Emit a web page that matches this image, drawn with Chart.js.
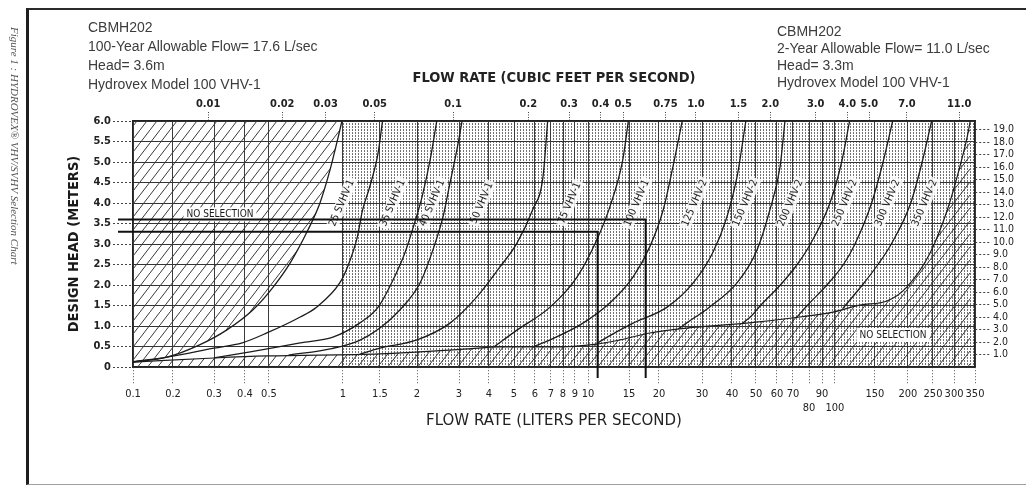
<!DOCTYPE html>
<html>
<head>
<meta charset="utf-8">
<title>Hydrovex VHV/SVHV Selection Chart</title>
<script src="https://cdn.jsdelivr.net/npm/chart.js@4.4.1/dist/chart.umd.min.js"></script>
<style>
  html, body { margin: 0; padding: 0; background: #fff; }
  #page { position: relative; width: 1026px; height: 487px; overflow: hidden; font-family: "Liberation Sans", Arial, sans-serif; }
  #frame { position: absolute; left: 26px; top: 8px; width: 1010px; height: 474px; border-left: 3px solid #1e1e1e; border-top: 2px solid #2a2a2a; border-bottom: 1px solid #a0a0a0; }
  #chart { position: absolute; left: 0; top: 0; }
  .note { position: absolute; color: #3c3c3c; font-size: 14px; white-space: nowrap; }
  #caption { position: absolute; left: 21px; top: 27px; transform-origin: 0 0; transform: rotate(90deg); font: italic 11px "Liberation Serif", serif; color: #555; white-space: nowrap; }
</style>
</head>
<body>
<div id="page">
  <div id="frame"></div>
  <canvas id="chart" width="1026" height="487"></canvas>
  <div id="caption">Figure 1 : HYDROVEX® VHV/SVHV Selection Chart</div>
  <div class="note" style="left:88px; top:18px; line-height:19px;">CBMH202<br>100-Year Allowable Flow= 17.6 L/sec<br>Head= 3.6m<br>Hydrovex Model 100 VHV-1</div>
  <div class="note" style="left:777px; top:23px; line-height:17px;">CBMH202<br>2-Year Allowable Flow= 11.0 L/sec<br>Head= 3.3m<br>Hydrovex Model 100 VHV-1</div>
</div>
<script>
// Axes
const lpsTicks = [0.1, 0.2, 0.3, 0.4, 0.5, 1, 1.5, 2, 3, 4, 5, 6, 7, 8, 9, 10, 15, 20, 30, 40, 50, 60, 70, 80, 90, 100, 150, 200, 250, 300, 350];
const cfsTicks = [0.01, 0.02, 0.03, 0.05, 0.1, 0.2, 0.3, 0.4, 0.5, 0.75, 1.0, 1.5, 2.0, 3.0, 4.0, 5.0, 7.0, 11.0];
const headTicks = [0, 0.5, 1.0, 1.5, 2.0, 2.5, 3.0, 3.5, 4.0, 4.5, 5.0, 5.5, 6.0];
const feetTicks = [1, 2, 3, 4, 5, 6, 7, 8, 9, 10, 11, 12, 13, 14, 15, 16, 17, 18, 19];

// Valve curves, [flow L/s, head m]
const curveNames = ['25 SVHV-1', '35 SVHV-1', '40 SVHV-1', '50 VHV-1', '75 VHV-1', '100 VHV-1',
  '125 VHV-2', '150 VHV-2', '200 VHV-2', '250 VHV-2', '300 VHV-2', '350 VHV-2'];
const c25 = [[0.1, 0.12], [0.18, 0.24], [0.26, 0.54], [0.337, 0.9], [0.43, 1.39], [0.52, 1.95], [0.61, 2.54], [0.72, 3.34], [0.806, 4.0], [0.885, 4.8], [0.957, 5.62], [0.99, 6.0]];
const c35 = [[0.1, 0.13], [0.18, 0.24], [0.3, 0.46], [0.39, 0.59], [0.49, 0.83], [0.67, 1.22], [0.78, 1.46], [0.97, 2.05], [1.06, 2.49], [1.17, 3.17], [1.24, 3.83], [1.34, 4.39], [1.47, 5.22], [1.53, 6.0]];
const c40 = [[0.3, 0.22], [0.42, 0.37], [0.67, 0.59], [0.91, 0.73], [1.2, 1.07], [1.47, 1.46], [1.66, 2.12], [1.82, 2.78], [1.96, 3.5], [2.1, 4.15], [2.27, 5.05], [2.42, 6.0]];
const c50 = [[0.6, 0.29], [0.9, 0.45], [1.2, 0.65], [1.5, 0.95], [1.75, 1.39], [2.06, 2.05], [2.33, 2.85], [2.57, 3.66], [2.75, 4.49], [2.94, 5.3], [3.09, 6.0]];
const c75 = [[1.2, 0.31], [1.5, 0.46], [2.0, 0.66], [2.75, 1.07], [3.56, 1.71], [4.41, 2.44], [5.13, 3.02], [5.89, 3.85], [6.48, 4.63], [6.78, 6.0]];
const c100 = [[4.2, 0.5], [5.13, 0.9], [6.94, 1.46], [9.16, 2.2], [10.9, 3.1], [12.4, 3.9], [14.1, 5.05], [14.9, 6.0]];
const c125 = [[5.9, 0.49], [6.94, 0.66], [9.6, 1.07], [12.4, 1.56], [15.6, 2.2], [18.3, 2.93], [20.8, 3.83], [22.8, 4.88], [24.9, 6.0]];
const c150 = [[10.9, 0.57], [12.1, 0.73], [15.6, 1.07], [21.6, 1.46], [27.6, 2.05], [33.2, 2.78], [38.1, 3.66], [41.9, 4.63], [45.5, 6.0]];
const c200 = [[24, 0.93], [25.9, 1.07], [32.2, 1.46], [41.9, 2.05], [50.4, 2.85], [56.4, 3.83], [61.8, 4.88], [64.8, 6.0]];
const c250 = [[44, 1.06], [48, 1.25], [52, 1.5], [62, 2.0], [72.5, 2.5], [81, 3.0], [96, 4.0], [107, 5.0], [116, 6.0]];
const c300 = [[72, 1.2], [78.8, 1.5], [93.6, 2.0], [109, 2.5], [122.5, 3.0], [145, 4.0], [161, 5.0], [175, 6.0]];
const c350 = [[108, 1.42], [111, 1.5], [132, 2.0], [154, 2.5], [173, 3.0], [205, 4.0], [227, 5.0], [247, 6.0]];

// Lower / right limit of the selection area
const noSelectionEdge = [[0.1, 0.12], [0.3, 0.22], [0.49, 0.27], [1.5, 0.32], [2.05, 0.37], [3.24, 0.44], [4.4, 0.49], [7, 0.49], [10.9, 0.56], [13.7, 0.66], [18.3, 0.83], [25.9, 0.95], [45.8, 1.07], [74.2, 1.22], [98.4, 1.34], [128.8, 1.51], [166.5, 1.61], [198, 1.95], [243.6, 2.78], [283, 3.83], [306.7, 4.63], [330.5, 5.61], [338, 6.0]];

// Design points [flow L/s, head m]
const design100Year = [17.6, 3.6];
const design2Year = [11.0, 3.3];

const LPS_PER_CFS = 28.3168;
const M_PER_FT = 0.3048;

// Scale that follows the chart's printed (non uniform) flow spacing
class WarpScale extends Chart.LinearScale {
  static id = 'warp';
  static defaults = {};
  toFraction(v) {
    const { anchors, spots } = this.options;
    const q = v * (this.options.factor || 1);
    const n = anchors.length;
    let i = 0;
    if (q >= anchors[n - 1]) i = n - 2;
    else while (i < n - 2 && q > anchors[i + 1]) i++;
    const t = Math.log(q / anchors[i]) / Math.log(anchors[i + 1] / anchors[i]);
    return spots[i] + t * (spots[i + 1] - spots[i]);
  }
  fromFraction(f) {
    const { anchors, spots } = this.options;
    const n = anchors.length;
    let i = 0;
    if (f >= spots[n - 1]) i = n - 2;
    else while (i < n - 2 && f > spots[i + 1]) i++;
    const t = (f - spots[i]) / (spots[i + 1] - spots[i]);
    return anchors[i] * Math.pow(anchors[i + 1] / anchors[i], t) / (this.options.factor || 1);
  }
  getPixelForValue(v) {
    if (v === null || v === undefined || isNaN(v)) return NaN;
    return this.getPixelForDecimal(this.toFraction(v));
  }
  getValueForPixel(px) {
    return this.fromFraction(this.getDecimalForPixel(px));
  }
  buildTicks() {
    return (this.options.tickValues || []).map(value => ({ value }));
  }
}
Chart.register(WarpScale);

const warpSpots = [0, 0.0475, 0.0962, 0.1330, 0.1615, 0.2494, 0.2933, 0.3373, 0.3872, 0.4228, 0.4525,
  0.4774, 0.4964, 0.5107, 0.5249, 0.5404, 0.5891, 0.6247, 0.6758, 0.7114, 0.7399, 0.7648, 0.7838,
  0.8029, 0.8183, 0.8337, 0.8812, 0.9204, 0.9501, 0.9751, 1];

// label offset (px) to the right of each curve at 4.0 m
const labelShift = [22, 28, 12, 36, 35, 26, 30, 15, 19, 15, 16, 14];

function makeHatch() {
  const c = document.createElement('canvas');
  c.width = 10; c.height = 13;
  const g = c.getContext('2d');
  g.strokeStyle = '#3a3a3a';
  g.lineWidth = 1;
  g.beginPath();
  g.moveTo(-2.5, 16.25);
  g.lineTo(12.5, -3.25);
  g.stroke();
  return g.createPattern(c, 'repeat');
}

function makeStipple() {
  const c = document.createElement('canvas');
  c.width = 3; c.height = 3;
  const g = c.getContext('2d');
  g.fillStyle = '#727272';
  g.fillRect(1, 0, 1, 2);
  return g.createPattern(c, 'repeat');
}

const hatch = makeHatch();
const stipple = makeStipple();
const tickFont = { family: "'DejaVu Sans Condensed', 'DejaVu Sans', sans-serif", size: 11 };
const titleFont = { family: "'DejaVu Sans Condensed', 'DejaVu Sans', sans-serif", size: 14.5, weight: 'bold' };

const curves = [c25, c35, c40, c50, c75, c100, c125, c150, c200, c250, c300, c350];
const toXY = pts => pts.map(([x, y]) => ({ x, y }));

const datasets = curves.map((pts, i) => ({
  label: curveNames[i],
  data: toXY(pts),
  borderColor: '#1c1c1c',
  borderWidth: 1.3,
  pointRadius: 0,
  cubicInterpolationMode: 'monotone',
  fill: i === 0 ? 'end' : false,
  backgroundColor: i === 0 ? hatch : 'transparent'
}));
datasets.push({
  label: 'NO SELECTION',
  data: toXY(noSelectionEdge),
  borderColor: '#1c1c1c',
  borderWidth: 1.2,
  pointRadius: 0,
  cubicInterpolationMode: 'monotone',
  fill: 'start',
  backgroundColor: hatch
});

const decor = {
  id: 'decor',
  beforeDraw(chart) {
    const { ctx, chartArea: a, scales: { x } } = chart;
    const x1 = x.getPixelForValue(1);
    ctx.save();
    ctx.fillStyle = stipple;
    ctx.fillRect(x1, a.top, a.right - x1, a.bottom - a.top);
    ctx.restore();
  },
  afterDatasetsDraw(chart) {
    const { ctx, chartArea: a, scales: { x, y } } = chart;
    ctx.save();

    // curve labels, set beside each curve at 4.0 m
    const yT = y.getPixelForValue(4.0);
    ctx.font = "10.5px 'DejaVu Sans Condensed', 'DejaVu Sans', sans-serif";
    ctx.textAlign = 'center';
    ctx.textBaseline = 'middle';
    curveNames.forEach((name, i) => {
      const pts = chart.getDatasetMeta(i).data;
      let xT = null;
      for (let k = 0; k < pts.length - 1; k++) {
        const p = pts[k], q = pts[k + 1];
        if ((p.y - yT) * (q.y - yT) <= 0) {
          xT = p.x + (q.x - p.x) * (yT - p.y) / (q.y - p.y);
          break;
        }
      }
      if (xT === null) return;
      const w = ctx.measureText(name).width;
      ctx.save();
      ctx.translate(xT + labelShift[i], yT);
      ctx.rotate(-67 * Math.PI / 180);
      ctx.fillStyle = 'rgba(255,255,255,0.85)';
      ctx.fillRect(-w / 2 - 2, -6, w + 4, 12);
      ctx.fillStyle = '#1a1a1a';
      ctx.fillText(name, 0, 0);
      ctx.restore();
    });

    // NO SELECTION notes
    ctx.font = "10px 'DejaVu Sans Condensed', 'DejaVu Sans', sans-serif";
    const note = (cx, cy) => {
      const w = ctx.measureText('NO SELECTION').width;
      ctx.fillStyle = '#fff';
      ctx.fillRect(cx - w / 2 - 3, cy - 7, w + 6, 14);
      ctx.fillStyle = '#1a1a1a';
      ctx.fillText('NO SELECTION', cx, cy);
    };
    note(a.left + 87, y.getPixelForValue(3.6) - 5);
    note(a.right - 82, y.getPixelForValue(0.78));

    // allowable flow / head lines
    ctx.strokeStyle = '#111';
    ctx.lineWidth = 2;
    [design100Year, design2Year].forEach(([q, h]) => {
      const px = x.getPixelForValue(q), py = y.getPixelForValue(h);
      ctx.beginPath();
      ctx.moveTo(a.left - 15, py);
      ctx.lineTo(px, py);
      ctx.lineTo(px, a.bottom + 11);
      ctx.stroke();
    });
    ctx.restore();
  }
};

new Chart(document.getElementById('chart'), {
  type: 'line',
  data: { datasets },
  plugins: [decor],
  options: {
    responsive: false,
    animation: false,
    events: [],
    layout: { padding: 0 },
    plugins: { legend: { display: false }, tooltip: { enabled: false } },
    scales: {
      x: {
        type: 'warp', position: 'bottom',
        min: 0.1, max: 350,
        anchors: lpsTicks, spots: warpSpots, tickValues: lpsTicks,
        afterFit: s => { s.height = 120; },
        grid: { color: '#3c3c3c', lineWidth: 1, tickLength: 18, tickColor: '#555', tickBorderDash: [1, 2] },
        border: { color: '#222', width: 1.2 },
        ticks: {
          autoSkip: false, maxRotation: 0, padding: 3, color: '#222', font: tickFont,
          callback: v => (v === 80 || v === 100) ? ['', String(v)] : String(v)
        },
        title: { display: true, text: 'FLOW RATE (LITERS PER SECOND)', color: '#222',
          font: { family: "'DejaVu Sans', sans-serif", size: 15 }, padding: { top: 0, bottom: 57 } }
      },
      xTop: {
        type: 'warp', position: 'top',
        min: 0.1 / LPS_PER_CFS, max: 350 / LPS_PER_CFS, factor: LPS_PER_CFS,
        anchors: lpsTicks, spots: warpSpots, tickValues: cfsTicks,
        afterFit: s => { s.height = 121; },
        grid: { drawOnChartArea: false, tickLength: 9, tickColor: '#444', tickBorderDash: [1, 1.5] },
        border: { color: '#222', width: 1.2 },
        ticks: {
          autoSkip: false, maxRotation: 0, padding: 1, color: '#222', font: { ...tickFont, weight: 'bold' },
          callback: v => v >= 1 ? v.toFixed(1) : String(v)
        },
        title: { display: true, text: 'FLOW RATE (CUBIC FEET PER SECOND)', color: '#222', font: titleFont, padding: { top: 70, bottom: 0 } }
      },
      y: {
        type: 'linear', position: 'left', min: 0, max: 6,
        afterFit: s => { s.width = 133; },
        afterBuildTicks: s => { s.ticks = headTicks.map(value => ({ value })); },
        grid: { color: '#333', lineWidth: 1, tickLength: 20, tickColor: '#444', tickBorderDash: [2, 2] },
        border: { color: '#222', width: 1.2 },
        ticks: { autoSkip: false, padding: 2, color: '#222', font: { ...tickFont, weight: 'bold' },
          callback: v => v === 0 ? '0' : v.toFixed(1) },
        title: { display: true, text: 'DESIGN HEAD (METERS)', color: '#1a1a1a', font: titleFont, padding: { top: 66, bottom: 0 } }
      },
      yFt: {
        type: 'linear', position: 'right', min: 0, max: 6 / M_PER_FT,
        afterFit: s => { s.width = 51; },
        afterBuildTicks: s => { s.ticks = feetTicks.map(value => ({ value })); },
        grid: { drawOnChartArea: false, tickLength: 16, tickColor: '#444', tickBorderDash: [2, 2] },
        border: { color: '#222', width: 1.2 },
        ticks: { autoSkip: false, padding: 2, color: '#222', font: { ...tickFont, size: 10.5 }, callback: v => v.toFixed(1) }
      }
    }
  }
});
</script>
</body>
</html>
